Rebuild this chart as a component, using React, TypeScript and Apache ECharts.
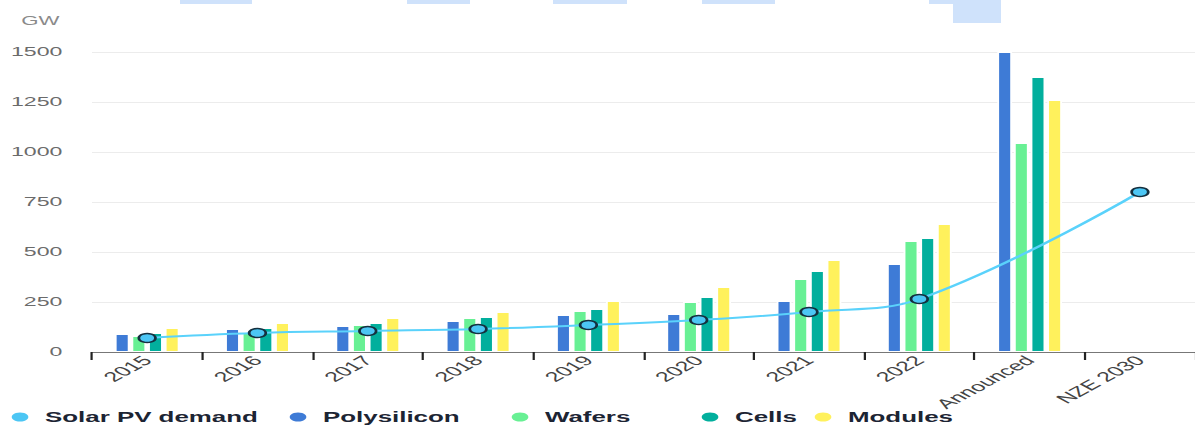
import React, { useEffect, useRef } from "react";
import * as echarts from "echarts";

const categories = ["2015", "2016", "2017", "2018", "2019", "2020", "2021", "2022", "Announced", "NZE 2030"];
const demand = [70, 95, 105, 115, 135, 160, 200, 265, null, 800];
const polysilicon = [90, 115, 130, 155, 185, 190, 255, 440, 1500, null];
const wafers = [80, 100, 135, 170, 205, 250, 365, 555, 1045, null];
const cells = [95, 120, 145, 175, 215, 275, 405, 570, 1375, null];
const modules = [120, 145, 170, 200, 255, 325, 460, 640, 1260, null];
const seriesNames = ["Solar PV demand", "Polysilicon", "Wafers", "Cells", "Modules"];
const yMin = 0;
const yMax = 1500;
const yStep = 250;
const unit = "GW";

// the reference is horizontally stretched; draw narrow, then stretch with CSS
const S = 1.85;
const W = 1195 / S;
const H = 427;

const colors = {
  demandLine: "#5ad2fb",
  demandFill: "#4cc6f4",
  poly: "#3e7bd6",
  wafers: "#68f094",
  cells: "#02af9d",
  modules: "#fff15c",
};

export default function App() {
  const ref = useRef<HTMLDivElement>(null);

  useEffect(() => {
    if (!ref.current) return;
    const chart = echarts.init(ref.current, null, { renderer: "svg" });
    const sx = (x: number) => x / S;

    const barCommon = {
      type: "bar",
      barWidth: 8,
      barGap: "12.5%",
      itemStyle: { borderColor: "#ffffff", borderWidth: 1 },
      z: 2,
    };

    const legendLefts = [45, 323, 545, 735, 848].map((t) => sx(t) - 18);
    const legendColors = [colors.demandFill, colors.poly, colors.wafers, colors.cells, colors.modules];

    const topRects = [
      [180, 0, 72, 4],
      [407, 0, 63, 4],
      [553, 0, 74, 4],
      [702, 0, 73, 4],
      [929, 0, 72, 4],
      [953, 0, 48, 23],
    ];

    const option: any = {
      animation: false,
      backgroundColor: "#ffffff",
      title: {
        text: unit,
        left: sx(12),
        top: 10,
        textStyle: { color: "#8a8a8a", fontSize: 12, fontWeight: "normal", fontFamily: "Liberation Sans, Arial, sans-serif" },
      },
      grid: { left: sx(92), width: sx(1107), top: 52, height: 300, containLabel: false },
      legend: seriesNames.map((n, i) => ({
        data: [n],
        left: legendLefts[i],
        top: 410,
        padding: 0,
        icon: "circle",
        itemWidth: 9,
        itemHeight: 9,
        itemStyle: { color: legendColors[i], borderWidth: 0 },
        textStyle: {
          color: "#1c2433",
          fontSize: 14,
          lineHeight: 14,
          fontWeight: "bold",
          fontFamily: "Liberation Sans, Arial, sans-serif",
          padding: [0, 0, 0, 4],
        },
        selectedMode: false,
      })),
      xAxis: {
        type: "category",
        data: categories,
        boundaryGap: true,
        axisLine: { show: true, lineStyle: { color: "#777", width: 1 } },
        axisTick: { show: true, length: 8, lineStyle: { color: "#222", width: 1.2 } },
        axisLabel: {
          interval: 0,
          rotate: 45,
          margin: 6,
          color: "#444",
          fontSize: 13.5,
          fontFamily: "Liberation Sans, Arial, sans-serif",
        },
        splitLine: { show: false },
      },
      yAxis: {
        type: "value",
        min: yMin,
        max: yMax,
        interval: yStep,
        axisLine: { show: false },
        axisTick: { show: false },
        axisLabel: {
          color: "#6b6b6b",
          fontSize: 12.5,
          margin: 16,
          fontFamily: "Liberation Sans, Arial, sans-serif",
          formatter: (v: number) => String(v),
        },
        splitLine: { lineStyle: { color: "#ececec", width: 1 } },
      },
      series: [
        {
          name: seriesNames[0],
          type: "line",
          data: demand,
          smooth: 0.4,
          connectNulls: true,
          symbol: "circle",
          symbolSize: 9,
          showAllSymbol: true,
          lineStyle: { color: colors.demandLine, width: 2 },
          itemStyle: { color: colors.demandFill, borderColor: "#15303f", borderWidth: 1.5 },
          z: 5,
        },
        { ...barCommon, name: seriesNames[1], data: polysilicon, itemStyle: { ...barCommon.itemStyle, color: colors.poly } },
        { ...barCommon, name: seriesNames[2], data: wafers, itemStyle: { ...barCommon.itemStyle, color: colors.wafers } },
        { ...barCommon, name: seriesNames[3], data: cells, itemStyle: { ...barCommon.itemStyle, color: colors.cells } },
        { ...barCommon, name: seriesNames[4], data: modules, itemStyle: { ...barCommon.itemStyle, color: colors.modules } },
      ],
      graphic: topRects.map(([x, y, w, h]) => ({
        type: "rect",
        shape: { x: sx(x), y, width: sx(w), height: h },
        style: { fill: "#cfe2fb" },
        silent: true,
      })),
    };

    chart.setOption(option);
    return () => chart.dispose();
  }, []);

  return (
    <div
      ref={ref}
      style={{
        position: "fixed",
        left: 0,
        top: 0,
        width: W,
        height: H,
        transform: `scaleX(${S})`,
        transformOrigin: "0 0",
      }}
    />
  );
}
